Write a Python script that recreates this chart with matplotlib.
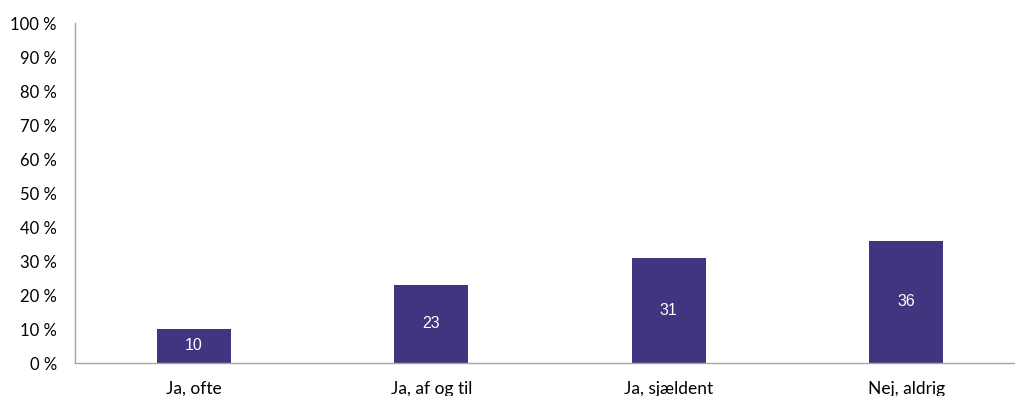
import matplotlib.pyplot as plt

categories = ['Ja, ofte', 'Ja, af og til', 'Ja, sjældent', 'Nej, aldrig']
values = [10, 23, 31, 36]
yticks = [0, 10, 20, 30, 40, 50, 60, 70, 80, 90, 100]

bar_color = '#42357f'
axis_color = '#a6a6a6'

plt.rcParams['font.family'] = ['Lato', 'DejaVu Sans']

fig = plt.figure(figsize=(10.15, 3.96), dpi=100)
ax = fig.add_axes([75 / 1015, 33 / 396, 950 / 1015, 340 / 396])

x = list(range(len(categories)))
bars = ax.bar(x, values, width=0.31, color=bar_color)

for b, v in zip(bars, values):
    ax.text(b.get_x() + b.get_width() / 2, v / 2, str(v), ha='center', va='center',
            color='white', fontsize=11.5, family=['Liberation Sans'])

ax.set_xlim(-0.5, len(categories) - 0.5)
ax.set_ylim(0, 100)
ax.set_yticks(yticks)
ax.set_yticklabels([f'{t} %' for t in yticks])
ax.set_xticks(x)
ax.set_xticklabels(categories)
ax.tick_params(axis='y', length=0, pad=13, labelsize=12, colors='black')
ax.tick_params(axis='x', length=0, pad=13, labelsize=12.5, colors='black')

for s in ['top', 'right']:
    ax.spines[s].set_visible(False)
for s in ['left', 'bottom']:
    ax.spines[s].set_color(axis_color)
    ax.spines[s].set_linewidth(1)

fig.savefig('out.png', dpi=100)
